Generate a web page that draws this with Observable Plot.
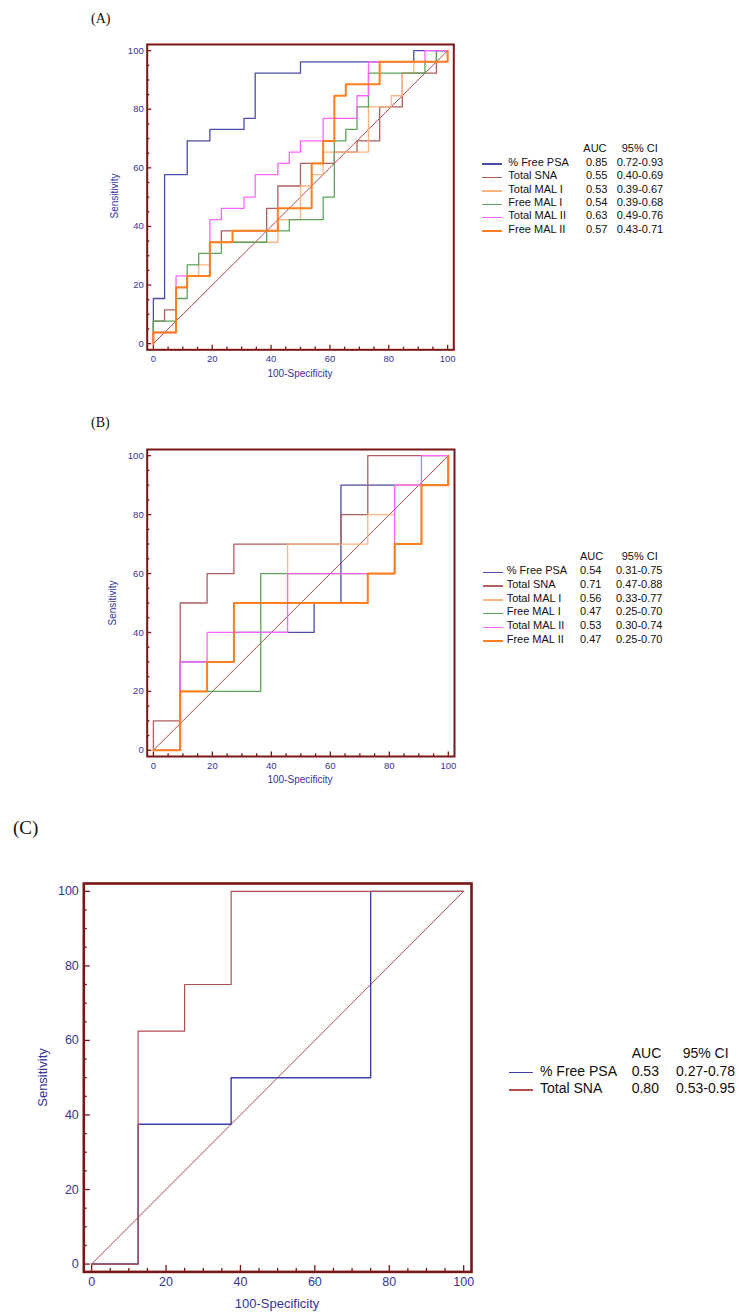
<!DOCTYPE html>
<html><head><meta charset="utf-8">
<script src="https://cdn.jsdelivr.net/npm/d3@7"></script>
<script src="https://cdn.jsdelivr.net/npm/@observablehq/plot@0.6"></script>
<style>
body{margin:0;background:#fff;}
#page{position:relative;width:741px;height:1313px;overflow:hidden;font-family:"Liberation Sans",Arial,sans-serif;background:#fff;}
.abs{position:absolute;white-space:nowrap;}
</style></head><body><div id="page"></div>
<script>
// ---------- data ----------
const seriesNames = ["% Free PSA","Total SNA","Total MAL I","Free MAL I","Total MAL II","Free MAL II"];
const seriesColors = ["#4b4ba8","#b05e5e","#ffb47f","#5ca35c","#ff66ff","#ff7f1f"];
const seriesWidths = [1.3,1.3,1.3,1.3,1.3,2];
const diagonal = [[0,0],[100,100]];
const majorTicks = [0,20,40,60,80,100];
const minorTicks = [5,10,15,25,30,35,45,50,55,65,70,75,85,90,95];

// Panel A: ROC operating points (100-Specificity, Sensitivity)
const aFreePSA = [[0,0],[0,15.4],[3.8,57.7],[11.5,69.2],[19.2,73.1],[30.8,76.9],[34.6,92.3],[50,96.2],[88.5,100],[100,100]];
const aTotalSNA = [[0,0],[0,7.7],[3.8,11.5],[7.7,19.2],[11.5,23.1],[19.2,34.6],[23.1,38.5],[38.5,46.2],[42.3,53.8],[50,61.5],[61.5,65.4],[69.2,69.2],[76.9,80.8],[84.6,92.3],[96.2,100],[100,100]];
const aTotalMAL1 = [[0,0],[0,3.8],[7.7,19.2],[11.5,23.1],[15.4,26.9],[19.2,34.6],[42.3,42.3],[50,53.8],[53.8,57.7],[57.7,65.4],[73.1,80.8],[80.8,84.6],[84.6,92.3],[88.5,96.2],[100,100]];
const aFreeMAL1 = [[0,0],[0,7.7],[7.7,15.4],[11.5,26.9],[15.4,30.8],[23.1,34.6],[38.5,38.5],[46.2,42.3],[57.7,50],[61.5,69.2],[65.4,73.1],[69.2,80.8],[73.1,92.3],[92.3,96.2],[96.2,100],[100,100]];
const aTotalMAL2 = [[0,0],[0,3.8],[7.7,23.1],[19.2,42.3],[23.1,46.2],[30.8,50],[34.6,57.7],[42.3,61.5],[46.2,65.4],[50,69.2],[57.7,76.9],[69.2,84.6],[73.1,96.2],[92.3,100],[100,100]];
const aFreeMAL2 = [[0,0],[0,3.8],[7.7,19.2],[11.5,23.1],[19.2,34.6],[26.9,38.5],[42.3,46.2],[53.8,61.5],[57.7,69.2],[61.5,84.6],[65.4,88.5],[76.9,96.2],[100,100]];
const aAUC = ["0.85","0.55","0.53","0.54","0.63","0.57"];
const aCI = ["0.72-0.93","0.40-0.69","0.39-0.67","0.39-0.68","0.49-0.76","0.43-0.71"];

// Panel B
const bFreePSA = [[0,0],[9.1,30],[27.3,40],[54.5,50],[63.6,90],[100,100]];
const bTotalSNA = [[0,0],[0,10],[9.1,50],[18.2,60],[27.3,70],[63.6,80],[72.7,100],[100,100]];
const bTotalMAL1 = [[0,0],[9.1,20],[18.2,30],[27.3,50],[45.5,70],[72.7,80],[81.8,90],[100,100]];
const bFreeMAL1 = [[0,0],[9.1,20],[36.4,60],[81.8,70],[90.9,90],[100,100]];
const bTotalMAL2 = [[0,0],[9.1,30],[18.2,40],[45.5,60],[81.8,90],[90.9,100],[100,100]];
const bFreeMAL2 = [[0,0],[9.1,20],[18.2,30],[27.3,50],[72.7,60],[81.8,70],[90.9,90],[100,100]];
const bAUC = ["0.54","0.71","0.56","0.47","0.53","0.47"];
const bCI = ["0.31-0.75","0.47-0.88","0.33-0.77","0.25-0.70","0.30-0.74","0.25-0.70"];

// Panel C
const cNames = ["% Free PSA","Total SNA"];
const cColors = ["#3f3fae","#b05050"];
const cFreePSA = [[0,0],[12.5,37.5],[37.5,50],[75,100],[100,100]];
const cTotalSNA = [[0,0],[12.5,62.5],[25,75],[37.5,100],[100,100]];
const cAUC = ["0.53","0.80"];
const cCI = ["0.27-0.78","0.53-0.95"];

// ---------- styling ----------
const maroon = "#7b1616";
const axisBlue = "#34349c";
const diagColor = "#b04848";
const page = document.getElementById("page");

function addText(txt, x, y, size, opts = {}) {
  const d = document.createElement("div");
  d.className = "abs";
  d.textContent = txt;
  d.style.fontSize = size + "px";
  d.style.lineHeight = size + "px";
  d.style.color = opts.color || "#111";
  if (opts.family) d.style.fontFamily = opts.family;
  d.style.left = x + "px";
  d.style.top = (y - size / 2) + "px";
  if (opts.center) d.style.transform = "translateX(-50%)";
  if (opts.rotate) { d.style.transform = "translate(-50%,0) rotate(-90deg)"; d.style.transformOrigin = "50% 50%"; }
  page.appendChild(d);
  return d;
}

function panel({curves, colors, widths, frame, fontSize, majorLen, minorLen, frameWidth, padX, padY}) {
  const dom = [-2.1, 102.1];
  const mt = 10, mb = 34, mr = 20;
  const w = frame.r + mr;
  const h = (frame.b - frame.t) + mt + mb;
  const k = (frame.r - frame.l) / (dom[1] - dom[0]);
  const marks = [
    Plot.line(diagonal, {x: d => d[0], y: d => d[1], stroke: diagColor, strokeWidth: 1}),
    ...curves.map((c, i) => Plot.line(c, {x: d => d[0], y: d => d[1], curve: "step-after", stroke: colors[i], strokeWidth: widths[i]})),
    Plot.ruleY(majorTicks, {y: d => d, x1: () => dom[0], x2: () => dom[0] + majorLen / k, stroke: maroon, strokeWidth: 1.3}),
    Plot.ruleY(minorTicks, {y: d => d, x1: () => dom[0], x2: () => dom[0] + minorLen / k, stroke: maroon, strokeWidth: 1.3}),
    Plot.ruleX(majorTicks, {x: d => d, y1: () => dom[0], y2: () => dom[0] + majorLen / k, stroke: maroon, strokeWidth: 1.3}),
    Plot.ruleX(minorTicks, {x: d => d, y1: () => dom[0], y2: () => dom[0] + minorLen / k, stroke: maroon, strokeWidth: 1.3}),
    Plot.frame({stroke: maroon, strokeWidth: frameWidth}),
    Plot.axisX({ticks: majorTicks, tickSize: 0, tickPadding: padX, label: null, fill: axisBlue, fontSize}),
    Plot.axisY({ticks: majorTicks, tickSize: 0, tickPadding: padY, label: null, fill: axisBlue, fontSize})
  ];
  const svg = Plot.plot({
    width: w, height: h,
    marginLeft: frame.l, marginRight: mr, marginTop: mt, marginBottom: mb,
    x: {domain: dom}, y: {domain: dom},
    style: {fontFamily: '"Liberation Sans",Arial,sans-serif', fontSize: fontSize + "px", color: axisBlue, background: "transparent", overflow: "visible"},
    marks
  });
  svg.style.position = "absolute";
  svg.style.left = "0px";
  svg.style.top = (frame.t - mt) + "px";
  page.appendChild(svg);
}

function legend({names, aucs, cis, colors, widths, swX1, swX2, nameX, aucX, ciX, hAucX, hCiX, headY, rowY0, rowStep, size}) {
  addText("AUC", hAucX, headY, size);
  addText("95% CI", hCiX, headY, size);
  names.forEach((n, i) => {
    const y = rowY0 + i * rowStep;
    const sw = document.createElement("div");
    sw.className = "abs";
    sw.style.left = swX1 + "px";
    sw.style.width = (swX2 - swX1) + "px";
    sw.style.top = (y + 1) + "px";
    sw.style.height = (widths[i] >= 2 ? 2 : 1.5) + "px";
    sw.style.background = colors[i];
    page.appendChild(sw);
    addText(n, nameX, y, size);
    addText(aucs[i], aucX, y, size);
    addText(cis[i], ciX, y, size);
  });
}

// ---------- Panel A ----------
addText("(A)", 91, 18.5, 14, {family: '"Liberation Serif","Times New Roman",serif'});
panel({curves: [aFreePSA, aTotalSNA, aTotalMAL1, aFreeMAL1, aTotalMAL2, aFreeMAL2], colors: seriesColors, widths: seriesWidths,
  frame: {l: 146.7, t: 44, r: 453.3, b: 349.3}, fontSize: 9.5, majorLen: 4.5, minorLen: 2.7, frameWidth: 2, padX: 5.5, padY: 3.5});
addText("Sensitivity", 115, 196, 10, {color: axisBlue, rotate: true});
addText("100-Specificity", 300, 374, 10, {color: axisBlue, center: true});
legend({names: seriesNames, aucs: aAUC, cis: aCI, colors: seriesColors, widths: seriesWidths,
  swX1: 481.7, swX2: 501.7, nameX: 508.3, aucX: 586, ciX: 616.7, hAucX: 583.3, hCiX: 621.7, headY: 148.3, rowY0: 162.3, rowStep: 13.4, size: 11});

// ---------- Panel B ----------
addText("(B)", 91, 423, 14, {family: '"Liberation Serif","Times New Roman",serif'});
panel({curves: [bFreePSA, bTotalSNA, bTotalMAL1, bFreeMAL1, bTotalMAL2, bFreeMAL2], colors: seriesColors, widths: seriesWidths,
  frame: {l: 146.7, t: 449, r: 454, b: 756}, fontSize: 9.5, majorLen: 4.5, minorLen: 2.7, frameWidth: 2, padX: 5.5, padY: 3.5});
addText("Sensitivity", 113, 603, 10, {color: axisBlue, rotate: true});
addText("100-Specificity", 300, 780, 10, {color: axisBlue, center: true});
legend({names: seriesNames, aucs: bAUC, cis: bCI, colors: seriesColors, widths: seriesWidths,
  swX1: 482.7, swX2: 502.7, nameX: 506.7, aucX: 580, ciX: 616, hAucX: 580, hCiX: 621.7, headY: 556.7, rowY0: 570.7, rowStep: 13.7, size: 11});

// ---------- Panel C ----------
addText("(C)", 13, 827, 19, {family: '"Liberation Serif","Times New Roman",serif'});
panel({curves: [cFreePSA, cTotalSNA], colors: cColors, widths: [1.4, 1.2],
  frame: {l: 83.3, t: 883.3, r: 471, b: 1271.7}, fontSize: 12.5, majorLen: 6.5, minorLen: 3.5, frameWidth: 2.6, padX: 5, padY: 5});
addText("Sensitivity", 42, 1077, 13, {color: axisBlue, rotate: true});
addText("100-Specificity", 277, 1303, 13, {color: axisBlue, center: true});
legend({names: cNames, aucs: cAUC, cis: cCI, colors: cColors, widths: [1.4, 1.2],
  swX1: 509.3, swX2: 532.7, nameX: 540, aucX: 631.7, ciX: 676, hAucX: 631.7, hCiX: 682.7, headY: 1053.3, rowY0: 1070.7, rowStep: 17.6, size: 14});
</script></body></html>
